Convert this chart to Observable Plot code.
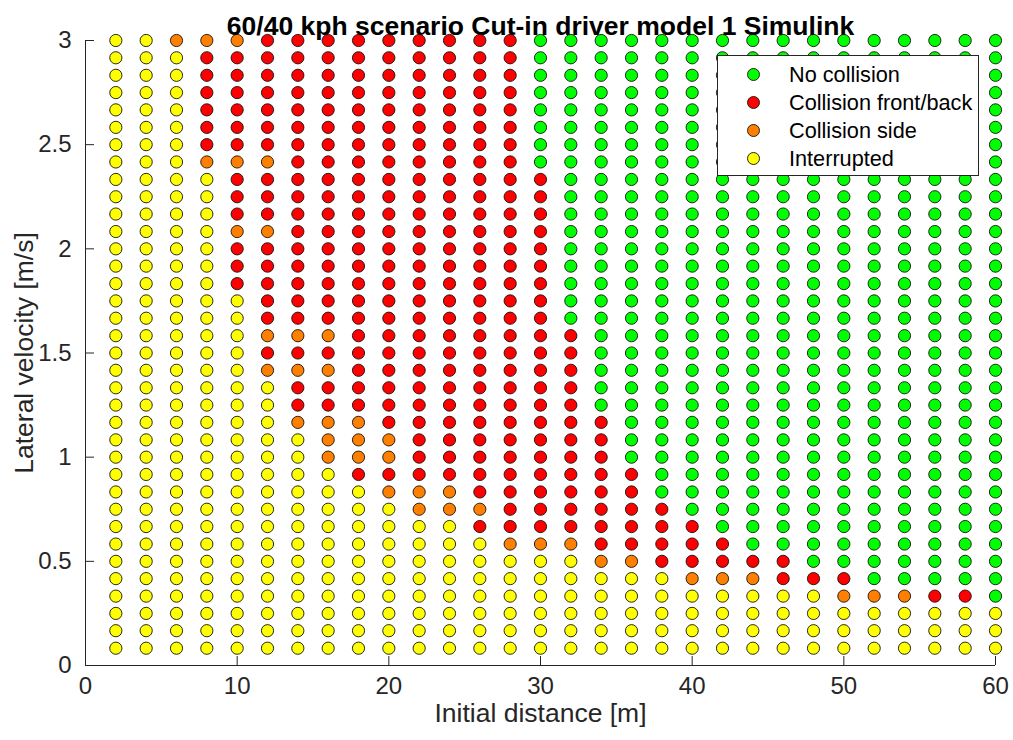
<!DOCTYPE html>
<html>
<head>
<meta charset="utf-8">
<script src="https://cdn.jsdelivr.net/npm/d3@7"></script>
<script src="https://cdn.jsdelivr.net/npm/@observablehq/plot@0.6"></script>
<style>
  body { margin: 0; background: #fff; font-family: "Liberation Sans", Arial, sans-serif; }
  #wrap { position: relative; width: 1013px; height: 740px; }
  #legend { position: absolute; left: 717px; top: 55px; width: 262px; height: 121px; border: 1px solid #262626; background: #fff; box-sizing: border-box; }
  .item { position: absolute; left: 0; width: 100%; height: 26px; }
  .sw { position: absolute; left: 29px; top: 6px; width: 13px; height: 13px; border-radius: 50%; border: 1px solid #222; box-sizing: border-box; }
  .lab { position: absolute; left: 71px; top: 0; font-size: 21.7px; line-height: 25px; color: #000; white-space: nowrap; }
</style>
</head>
<body>
<div id="wrap">
  <div id="chart"></div>
  <div id="legend"></div>
</div>
<script>
// Initial distance [m] (columns)
const distances = [2,4,6,8,10,12,14,16,18,20,22,24,26,28,30,32,34,36,38,40,42,44,46,48,50,52,54,56,58,60];
// Lateral velocity [m/s] (rows, bottom to top)
const velocities = [0.083,0.167,0.25,0.333,0.417,0.5,0.583,0.667,0.75,0.833,0.917,1,
                    1.083,1.167,1.25,1.333,1.417,1.5,1.583,1.667,1.75,1.833,1.917,2,
                    2.083,2.167,2.25,2.333,2.417,2.5,2.583,2.667,2.75,2.833,2.917,3];
// Outcome per distance column, read bottom (lowest velocity) to top.
// G = No collision, R = Collision front/back, O = Collision side, Y = Interrupted
const outcomeColumns = [
  "YYYYYY YYYYYY YYYYYY YYYYYY YYYYYY YYYYYY", // 2
  "YYYYYY YYYYYY YYYYYY YYYYYY YYYYYY YYYYYY", // 4
  "YYYYYY YYYYYY YYYYYY YYYYYY YYYYYY YYYYYO", // 6
  "YYYYYY YYYYYY YYYYYY YYYYYY YYYYOR RRRRRO", // 8
  "YYYYYY YYYYYY YYYYYY YYYRRR ORRROR RRRRRO", // 10
  "YYYYYY YYYYYY YYYYOR ORRRRR ORRROR RRRRRR", // 12
  "YYYYYY YYYYYY YORROR ORRRRR RRRRRR RRRRRR", // 14
  "YYYYYY YYYYYO OORROR ORRRRR RRRRRR RRRRRR", // 16
  "YYYYYY YYYYRO OORRRR RRRRRR RRRRRR RRRRRR", // 18
  "YYYYYY YYYORO ORRRRR RRRRRR RRRRRR RRRRRR", // 20
  "YYYYYY YYOORR RRRRRR RRRRRR RRRRRR RRRRRR", // 22
  "YYYYYY YYOORR RRRRRR RRRRRR RRRRRR RRRRRR", // 24
  "YYYYYY YRORRR RRRRRR RRRRRR RRRRRR RRRRRR", // 26
  "YYYYYY ORRRRR RRRRRR RRRRRR RRRRRR RRRRRR", // 28
  "YYYYYY ORRRRR RRRRRR RRRRRR RRRRGG GGGGGG", // 30
  "YYYYYY ORRRRR RRRRRR RGGGGG GGGGGG GGGGGG", // 32
  "YYYYYO RRRRRR RRGGGG GGGGGG GGGGGG GGGGGG", // 34
  "YYYYYO RRRRRG GGGGGG GGGGGG GGGGGG GGGGGG", // 36
  "YYYYYR RRRGGG GGGGGG GGGGGG GGGGGG GGGGGG", // 38
  "YYYYOR RRGGGG GGGGGG GGGGGG GGGGGG GGGGGG", // 40
  "YYYYOR RGGGGG GGGGGG GGGGGG GGGGGG GGGGGG", // 42
  "YYYYOR GGGGGG GGGGGG GGGGGG GGGGGG GGGGGG", // 44
  "YYYYRR GGGGGG GGGGGG GGGGGG GGGGGG GGGGGG", // 46
  "YYYYRG GGGGGG GGGGGG GGGGGG GGGGGG GGGGGG", // 48
  "YYYORG GGGGGG GGGGGG GGGGGG GGGGGG GGGGGG", // 50
  "YYYOGG GGGGGG GGGGGG GGGGGG GGGGGG GGGGGG", // 52
  "YYYOGG GGGGGG GGGGGG GGGGGG GGGGGG GGGGGG", // 54
  "YYYRGG GGGGGG GGGGGG GGGGGG GGGGGG GGGGGG", // 56
  "YYYRGG GGGGGG GGGGGG GGGGGG GGGGGG GGGGGG", // 58
  "YYYGGG GGGGGG GGGGGG GGGGGG GGGGGG GGGGGG"  // 60
];
const outcomeCodes = ["G","R","O","Y"];
const outcomeNames = ["No collision","Collision front/back","Collision side","Interrupted"];
const outcomeColors = ["#00ff00","#ff0000","#ff8000","#ffff00"];
const xTicks = [0,10,20,30,40,50,60];
const yTicks = [0,0.5,1,1.5,2,2.5,3];
const titleText = "60/40 kph scenario Cut-in driver model 1 Simulink";
const xLabel = "Initial distance [m]";
const yLabel = "Lateral velocity [m/s]";

const nameOf = Object.fromEntries(outcomeCodes.map((c, i) => [c, outcomeNames[i]]));
const points = [];
distances.forEach((d, i) => {
  const s = outcomeColumns[i].replace(/\s/g, "");
  velocities.forEach((v, k) => points.push({distance: d, velocity: v, outcome: nameOf[s[k]]}));
});

const FONT = '"Liberation Sans", Arial, Helvetica, sans-serif';
const chart = Plot.plot({
  width: 1013,
  height: 740,
  marginLeft: 85,
  marginRight: 18,
  marginTop: 40,
  marginBottom: 75,
  style: {fontFamily: FONT, fontSize: "24px", color: "#262626", background: "#fff", overflow: "visible"},
  x: {domain: [0, 60]},
  y: {domain: [0, 3]},
  color: {domain: outcomeNames, range: outcomeColors},
  marks: [
    Plot.axisX(xTicks, {tickSize: 0, tickPadding: 11, tickFormat: d => `${d}`, label: null, fill: "#262626", fontSize: 24}),
    Plot.axisY(yTicks, {tickSize: 0, tickPadding: 14, tickFormat: d => `${d}`, label: null, fill: "#262626", fontSize: 24}),
    Plot.ruleX([0], {stroke: "#262626", strokeWidth: 1}),
    Plot.ruleY([0], {stroke: "#262626", strokeWidth: 1}),
    Plot.tickX(xTicks, {x: d => d, insetTop: 616, stroke: "#262626"}),
    Plot.tickY(yTicks, {y: d => d, insetRight: 901, stroke: "#262626"}),
    Plot.dot(points, {x: "distance", y: "velocity", fill: "outcome", r: 6.1, stroke: "#111", strokeWidth: 0.9}),
    Plot.text([titleText], {text: d => d, frameAnchor: "top", dy: -24, fontWeight: "bold", fontSize: 26.5, fill: "#000"}),
    Plot.text([xLabel], {text: d => d, frameAnchor: "bottom", dy: 56, fontSize: 26.5, fill: "#262626"}),
    Plot.text([yLabel], {text: d => d, frameAnchor: "left", textAnchor: "middle", dx: -61, rotate: -90, fontSize: 26.5, fill: "#262626"})
  ]
});
document.getElementById("chart").appendChild(chart);

const legend = document.getElementById("legend");
outcomeNames.forEach((name, i) => {
  const item = document.createElement("div");
  item.className = "item";
  item.style.top = (5.5 + i * 28.3) + "px";
  item.innerHTML = `<span class="sw" style="background:${outcomeColors[i]}"></span><span class="lab">${name}</span>`;
  legend.appendChild(item);
});
</script>
</body>
</html>
